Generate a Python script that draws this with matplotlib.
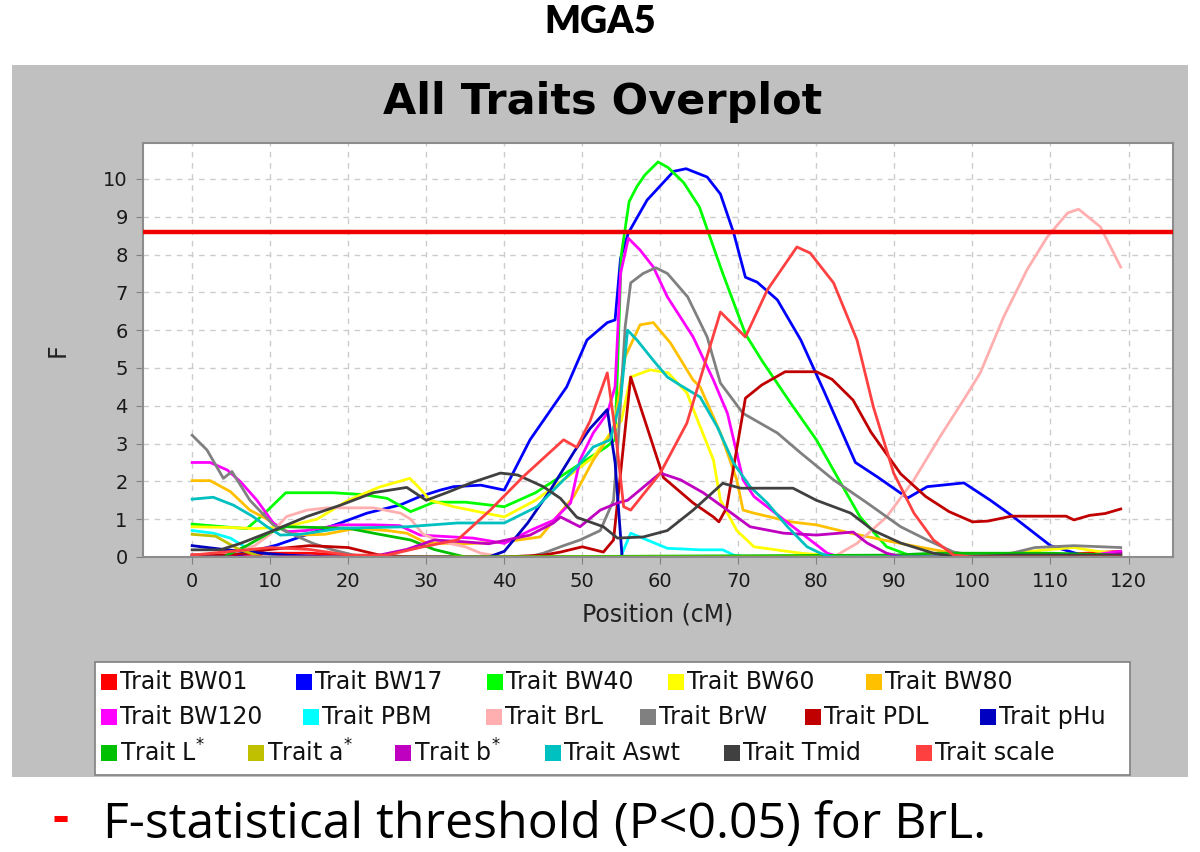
import matplotlib
matplotlib.use("Agg")
import matplotlib.pyplot as plt
from matplotlib.patches import Rectangle

# ---- data (position in cM, F value) ----
bw01_x = [0, 5, 10, 15, 20, 30, 60, 110, 119]
bw01_y = [0.05, 0.05, 0.1, 0.1, 0.05, 0.0, 0.0, 0.05, 0.15]

bw17_x = [0, 5, 10.9, 19, 22.4, 26.7, 29.2, 31.8, 33.5, 37, 40, 43.3, 48, 50.6, 53.2, 54.2,
          54.9, 55.9, 58.3, 61.7, 63.3, 66, 67.7, 69.4, 70.9, 72.4, 75, 78, 80.9, 85, 87.8,
          91.7, 94.2, 98.9, 102.3, 105, 110, 114, 119]
bw17_y = [0.05, 0.0, 0.32, 0.9, 1.16, 1.38, 1.6, 1.77, 1.86, 1.9, 1.77, 3.1, 4.5, 5.74, 6.2, 6.27,
          7.9, 8.57, 9.44, 10.2, 10.27, 10.05, 9.6, 8.57, 7.4, 7.27, 6.8, 5.74, 4.42, 2.5, 2.12,
          1.56, 1.86, 1.96, 1.5, 1.1, 0.3, 0.05, 0.1]

bw40_x = [0, 4, 7, 9, 12, 18, 22, 25, 28, 31, 35, 40, 44, 47, 50, 53, 54.2, 55, 56, 57, 58,
          59.7, 61, 63, 65, 68, 70.9, 73, 76.7, 80, 83, 85.6, 89, 92.5, 119]
bw40_y = [0.87, 0.8, 0.75, 1.1, 1.7, 1.7, 1.65, 1.55, 1.2, 1.45, 1.45, 1.33, 1.7, 2.1, 2.5, 2.9,
          3.1, 8.0, 9.4, 9.8, 10.1, 10.45, 10.3, 9.9, 9.26, 7.5, 5.9, 5.2, 4.07, 3.1, 2.0, 1.06,
          0.27, 0.0, 0.0]

bw60_x = [0, 5, 8, 12, 16, 20, 24, 27.9, 29, 30.5, 33.5, 40, 44, 48, 51.4, 53.6, 55, 56.2,
          58.7, 61, 63.4, 65, 66.8, 67.7, 69.8, 72, 78, 81, 90, 100, 105, 110, 113, 116, 119]
bw60_y = [0.8, 0.78, 0.75, 0.8, 1.0, 1.5, 1.85, 2.08, 1.85, 1.5, 1.33, 1.06, 1.5, 2.1, 2.64,
          3.28, 3.6, 4.76, 4.95, 4.87, 4.34, 3.5, 2.57, 1.5, 0.7, 0.27, 0.1, 0.05, 0.0, 0.05,
          0.1, 0.2, 0.25, 0.15, 0.1]

bw80_x = [0, 2.3, 4.9, 7.4, 9.6, 11.7, 13.9, 17, 21, 25, 27.5, 30, 35, 40, 44.6, 48.9, 51.4,
          54, 55.5, 57.4, 59.1, 61.3, 64.2, 65.1, 67.7, 69.8, 70.6, 72, 76.7, 80, 84.4, 88.6,
          93, 96.8, 100, 119]
bw80_y = [2.02, 2.02, 1.73, 1.24, 1.0, 0.71, 0.58, 0.6, 0.76, 0.7, 0.63, 0.37, 0.35, 0.4, 0.53,
          1.6, 2.56, 3.36, 5.3, 6.14, 6.2, 5.66, 4.68, 4.5, 3.28, 2.04, 1.24, 1.16, 0.93, 0.85,
          0.63, 0.45, 0.27, 0.13, 0.05, 0.05]

bw120_x = [0, 2.3, 4.5, 6.2, 8.3, 10.4, 12.1, 14.6, 19, 23.2, 26.6, 29.2, 36, 40, 43.3, 46.3,
           48.5, 49.7, 51.4, 53.2, 54.2, 54.9, 55.9, 57.4, 59.1, 60.9, 64.2, 66.8, 68.6, 70.6,
           72, 77, 79.2, 81.4, 83, 114, 117, 119]
bw120_y = [2.5, 2.5, 2.3, 1.99, 1.5, 0.9, 0.67, 0.7, 0.85, 0.85, 0.83, 0.58, 0.5, 0.36, 0.7,
           0.97, 1.43, 2.57, 3.28, 3.8, 4.5, 7.5, 8.43, 8.12, 7.67, 6.88, 5.82, 4.68, 3.8, 2.04,
           1.6, 0.8, 0.45, 0.1, 0.0, 0.0, 0.1, 0.15]

pbm_x = [0, 2.7, 4.9, 7.4, 10.4, 13, 54.9, 56.2, 58.3, 60.9, 65.1, 68, 69.4, 71, 119]
pbm_y = [0.7, 0.63, 0.5, 0.19, 0.05, 0.0, 0.0, 0.63, 0.45, 0.23, 0.19, 0.19, 0.05, 0.0, 0.0]

brl_x = [0, 5, 8, 10, 12.1, 14.7, 17.3, 23.2, 26.7, 28, 29.6, 32, 35, 37, 40, 82.2, 85.2, 89,
         92.5, 95.9, 99, 101, 104, 107, 109.6, 112.2, 113.6, 116.4, 119]
brl_y = [0.05, 0.1, 0.3, 0.6, 1.07, 1.24, 1.3, 1.3, 1.16, 1.0, 0.6, 0.4, 0.27, 0.1, 0.0, 0.0,
         0.36, 1.06, 2.04, 3.2, 4.2, 4.87, 6.35, 7.6, 8.47, 9.1, 9.2, 8.73, 7.67]

brw_x = [0, 1.9, 4, 5.1, 7.4, 10.4, 12.5, 15.5, 18, 20.7, 23, 43, 45, 47.6, 49.7, 52.3, 54,
         54.6, 55.5, 56.2, 57.8, 59.4, 60.9, 63.5, 66, 67.7, 70.6, 75, 78, 82.2, 86.5, 90.8,
         94.2, 97.6, 100, 105, 108, 113, 119]
brw_y = [3.22, 2.83, 2.08, 2.26, 1.5, 0.85, 0.63, 0.36, 0.19, 0.05, 0.0, 0.0, 0.1, 0.3, 0.45,
         0.7, 1.5, 3.1, 6.1, 7.25, 7.5, 7.65, 7.5, 6.88, 5.82, 4.6, 3.8, 3.28, 2.75, 2.04, 1.43,
         0.8, 0.45, 0.13, 0.05, 0.1, 0.25, 0.3, 0.25]

pdl_x = [0, 5, 10, 15, 20, 24, 28, 40, 45, 47.2, 50, 52.7, 54, 56.2, 60.4, 64.2, 66.8, 67.5,
         68.5, 70.9, 73, 76, 80, 82, 84.7, 87, 90.8, 94, 97, 100, 102, 105, 112, 113, 115, 117,
         119]
pdl_y = [0.05, 0.05, 0.2, 0.3, 0.25, 0.05, 0.0, 0.0, 0.05, 0.13, 0.27, 0.13, 0.45, 4.76, 2.1,
         1.43, 1.06, 0.93, 1.3, 4.2, 4.55, 4.9, 4.9, 4.7, 4.15, 3.3, 2.2, 1.6, 1.2, 0.93, 0.95,
         1.08, 1.08, 0.98, 1.1, 1.15, 1.27]

phu_x = [0, 4, 8, 12, 18, 38, 40, 43, 46, 49, 51, 53.2, 54.2, 55.1, 119]
phu_y = [0.3, 0.2, 0.12, 0.05, 0.0, 0.0, 0.15, 0.9, 1.8, 2.8, 3.4, 3.9, 2.5, 0.0, 0.0]

lstar_x = [0, 4, 7, 10, 12, 20, 24, 28, 31, 35, 90, 95, 100, 110, 119]
lstar_y = [0.0, 0.0, 0.3, 0.65, 0.8, 0.76, 0.6, 0.45, 0.2, 0.0, 0.05, 0.1, 0.1, 0.1, 0.05]

astar_x = [0, 3, 6, 9, 119]
astar_y = [0.6, 0.55, 0.2, 0.0, 0.0]

bstar_x = [0, 20, 24, 27.5, 31, 35, 38, 43.3, 46.3, 47.2, 49.7, 52.3, 54.5, 55.8, 60, 62.6,
           65.5, 68.6, 71.5, 75.8, 80, 84.7, 86.5, 89, 91, 116, 119]
bstar_y = [0.0, 0.0, 0.05, 0.2, 0.45, 0.4, 0.35, 0.58, 0.9, 1.06, 0.8, 1.24, 1.43, 1.5, 2.22,
           2.04, 1.7, 1.24, 0.8, 0.63, 0.58, 0.66, 0.37, 0.1, 0.0, 0.0, 0.1]

aswt_x = [0, 2.7, 5.3, 7.8, 9.6, 11.3, 13.9, 19, 27.5, 34, 40, 44.2, 47.6, 49.3, 51.4, 53.6,
          54.9, 55.8, 57, 59.1, 60.9, 62.5, 65.1, 67.3, 69.4, 71.5, 73.7, 76.3, 78.8, 80.5, 82,
          119]
aswt_y = [1.53, 1.58, 1.37, 1.07, 0.8, 0.58, 0.6, 0.76, 0.8, 0.9, 0.9, 1.33, 2.04, 2.38, 2.91,
          3.1, 4.15, 6.0, 5.74, 5.2, 4.76, 4.55, 4.23, 3.44, 2.48, 1.86, 1.43, 0.8, 0.27, 0.1,
          0.0, 0.0]

tmid_x = [0, 3.6, 6.2, 10.4, 14.7, 19, 23.2, 27.5, 30, 32.6, 36, 39.5, 41.7, 45, 47.2, 49.3,
          52.7, 54.5, 57.8, 60.9, 64.2, 68, 70.3, 77, 80, 84.4, 87.3, 90.8, 95, 98, 105, 119]
tmid_y = [0.19, 0.19, 0.36, 0.7, 1.07, 1.37, 1.7, 1.84, 1.5, 1.7, 1.98, 2.22, 2.17, 1.86, 1.55,
          1.05, 0.8, 0.5, 0.53, 0.7, 1.24, 1.95, 1.82, 1.82, 1.5, 1.16, 0.7, 0.37, 0.1, 0.0,
          0.05, 0.05]

scale_x = [0, 10, 15, 20, 25, 29.6, 34, 38.2, 42.4, 47.6, 49.3, 51, 53.2, 54.3, 55.3, 56.2, 60,
           63.4, 67.7, 70.9, 73.7, 77.5, 79.2, 82.2, 85.2, 87.3, 89.9, 92.5, 95, 97.6, 100, 119]
scale_y = [0.05, 0.25, 0.2, 0.05, 0.05, 0.27, 0.45, 1.24, 2.12, 3.1, 2.9, 3.6, 4.87, 3.2, 1.33,
           1.24, 2.22, 3.54, 6.48, 5.82, 7.06, 8.2, 8.04, 7.25, 5.74, 3.97, 2.22, 1.16, 0.45,
           0.05, 0.0, 0.0]

threshold = 8.6

labels = ["Trait BW01", "Trait BW17", "Trait BW40", "Trait BW60", "Trait BW80",
          "Trait BW120", "Trait PBM", "Trait BrL", "Trait BrW", "Trait PDL", "Trait pHu",
          r"Trait L$^{*}$", r"Trait a$^{*}$", r"Trait b$^{*}$", "Trait Aswt", "Trait Tmid",
          "Trait scale"]
colors = ["#FF0000", "#0000FF", "#00FF00", "#FFFF00", "#FFC000",
          "#FF00FF", "#00FFFF", "#FFAFAF", "#808080", "#C00000", "#0000C0",
          "#00C000", "#C0C000", "#C000C0", "#00C0C0", "#404040", "#FF4040"]
series = [(bw01_x, bw01_y), (bw17_x, bw17_y), (bw40_x, bw40_y), (bw60_x, bw60_y),
          (bw80_x, bw80_y), (bw120_x, bw120_y), (pbm_x, pbm_y), (brl_x, brl_y),
          (brw_x, brw_y), (pdl_x, pdl_y), (phu_x, phu_y), (lstar_x, lstar_y),
          (astar_x, astar_y), (bstar_x, bstar_y), (aswt_x, aswt_y), (tmid_x, tmid_y),
          (scale_x, scale_y)]

# legend layout (flow layout of the original, pixel positions)
leg_rows = [682, 717, 753]
leg_pos = [(101, 0), (296, 0), (487, 0), (668, 0), (866, 0),
           (101, 1), (303, 1), (486, 1), (640, 1), (805, 1), (980, 1),
           (101, 2), (248, 2), (395, 2), (545, 2), (724, 2), (916, 2)]

W, H = 1200, 852
fig = plt.figure(figsize=(W / 100, H / 100), dpi=100)
fig.patch.set_facecolor("white")

def fx(px):
    return px / W

def fy(py):
    return 1 - py / H

# grey chart panel, drawn behind the axes
fig.patches.append(Rectangle((fx(12), fy(777)), fx(1188) - fx(12), fy(65) - fy(777),
                             transform=fig.transFigure, facecolor="#C0C0C0",
                             edgecolor="none", zorder=-10))

fig.text(0.5, fy(22), "MGA5", ha="center", va="center", fontsize=27,
         fontweight="heavy", family="Lato")
fig.text(fx(603), fy(102), "All Traits Overplot", ha="center", va="center",
         fontsize=31, fontweight="bold", family="DejaVu Sans")

ax = fig.add_axes([fx(143), fy(557), fx(1173) - fx(143), fy(143) - fy(557)])
ax.set_zorder(1)
ax.set_facecolor("white")
for (xs, ys), c in zip(series, colors):
    ax.plot(xs, ys, color=c, lw=2.0, solid_joinstyle="round")
ax.axhline(threshold, color="#EE0000", lw=3.2, zorder=5)

ax.set_xlim(-6.3, 125.7)
ax.set_ylim(0, 10.95)
ax.set_xticks(range(0, 121, 10))
ax.set_yticks(range(0, 11))
ax.grid(True, color="#CCCCCC", linestyle=(0, (4, 4)), lw=1.0)
ax.set_axisbelow(True)
ax.tick_params(length=5, color="#808080", labelsize=14, pad=6)
for lab in ax.get_xticklabels() + ax.get_yticklabels():
    lab.set_color("#1A1A1A")
for s in ax.spines.values():
    s.set_color("#8C8C8C")
    s.set_linewidth(1.5)
ax.set_xlabel("Position (cM)", fontsize=17, labelpad=8, color="#222222")
ax.set_ylabel("F", fontsize=17, labelpad=24, color="#222222")

# legend box
fig.patches.append(Rectangle((fx(95), fy(775)), fx(1130) - fx(95), fy(662) - fy(775),
                             transform=fig.transFigure, facecolor="white",
                             edgecolor="#808080", lw=1.2, zorder=1))
for (px, row), lab, c in zip(leg_pos, labels, colors):
    py = leg_rows[row]
    fig.patches.append(Rectangle((fx(px), fy(py + 8)), fx(16), 16 / H,
                                 transform=fig.transFigure, facecolor=c,
                                 edgecolor="none", zorder=2))
    fig.text(fx(px + 19), fy(py), lab, ha="left", va="center", fontsize=17,
             color="#111111", zorder=3)

# caption
fig.text(fx(52), fy(819), "-", ha="left", va="center", fontsize=36,
         fontweight="bold", color="#FF0000", family="Open Sans")
fig.text(fx(103), fy(825), "F-statistical threshold (P<0.05) for BrL.", ha="left",
         va="center", fontsize=36, family="Open Sans")

fig.savefig("out.png", dpi=100)
